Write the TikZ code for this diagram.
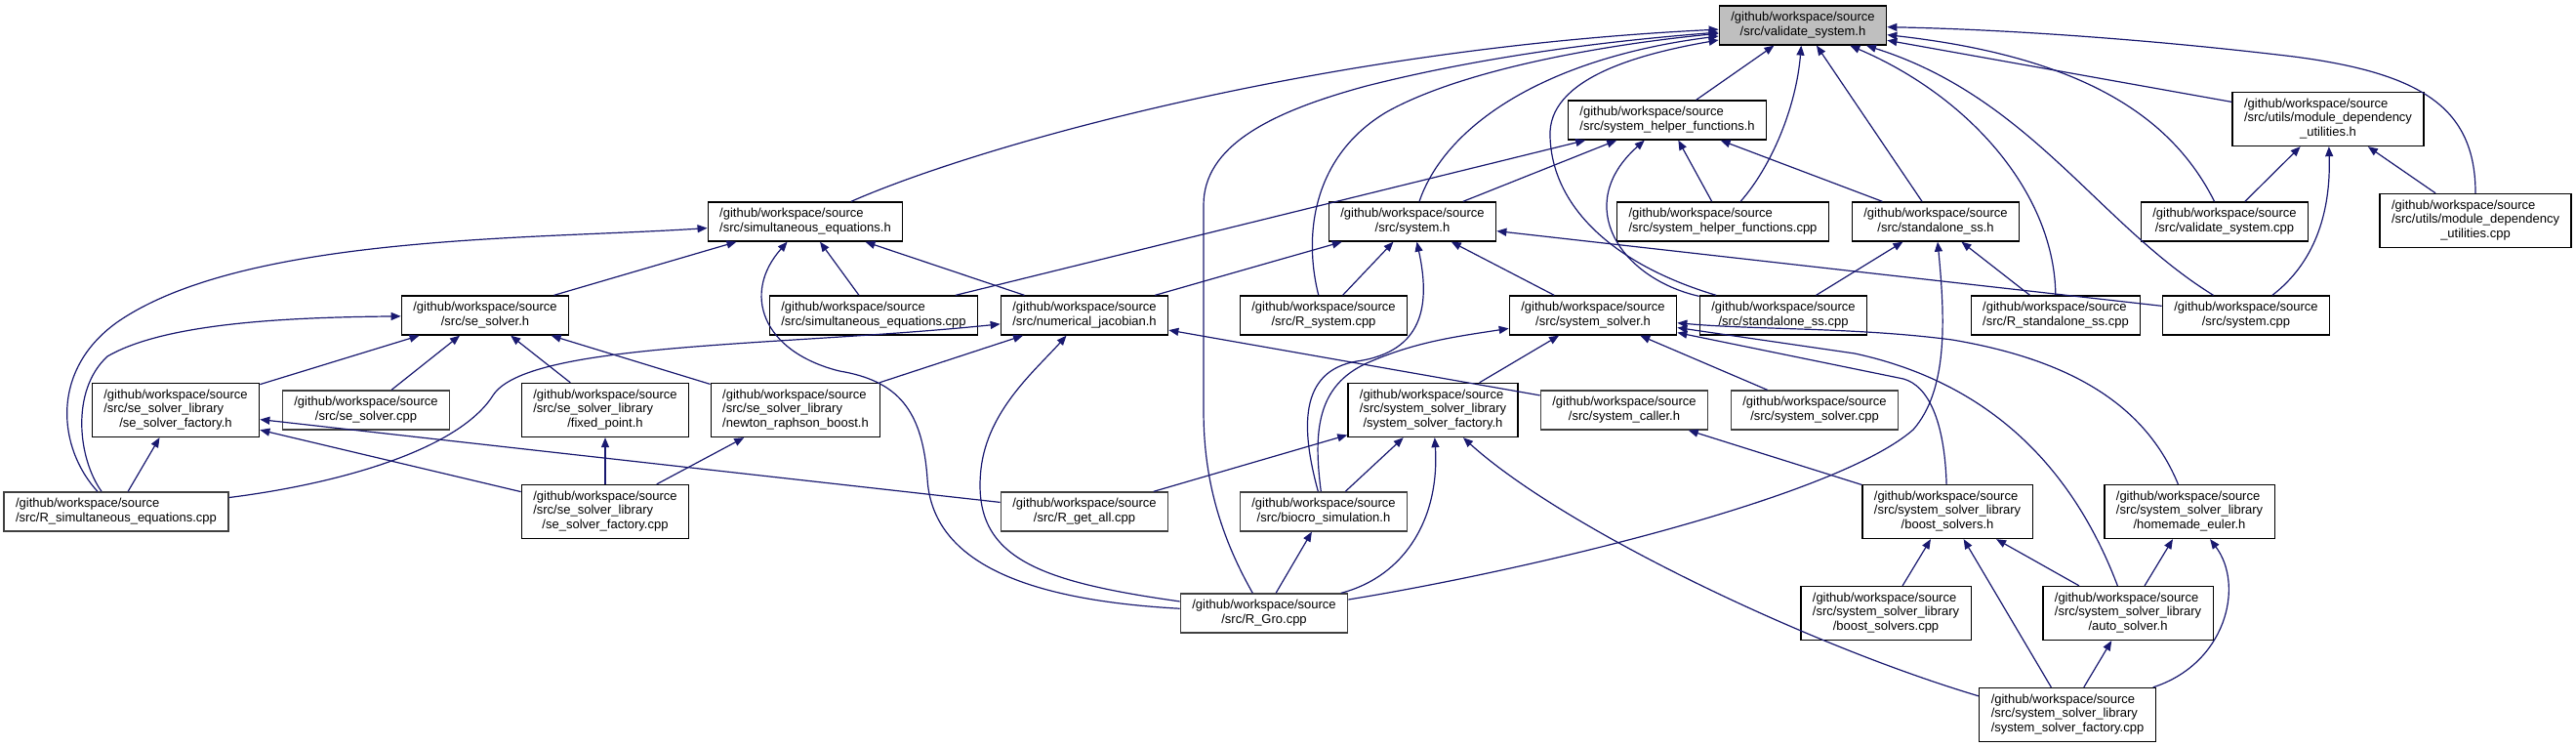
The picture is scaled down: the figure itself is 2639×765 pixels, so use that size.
\documentclass[tikz,border=0pt]{standalone}
\usepackage{fontspec}
\setmainfont{Liberation Sans}
\usepackage{xcolor}
\definecolor{dxedge}{RGB}{25,25,112}
\definecolor{dxfocus}{RGB}{191,191,191}
\definecolor{dxgray}{RGB}{64,64,64}
\usepackage{tikz}
\usetikzlibrary{arrows.meta}

\newcommand{\wsroot}{/github/workspace/source}
\newcommand{\dxtwo}[2]{\begin{tabular}{@{}l@{}}#1\\\multicolumn{1}{@{}c@{}}{#2}\end{tabular}}
\newcommand{\dxthree}[3]{\begin{tabular}{@{}l@{}}#1\\#2\\\multicolumn{1}{@{}c@{}}{#3}\end{tabular}}

\begin{document}
\begin{tikzpicture}[x=1pt, y=-1pt,
  fnode/.style={draw=black, fill=white, line width=1.3pt, inner xsep=12pt, inner ysep=0pt,
    minimum height=40pt, font=\fontsize{13}{14.5}\selectfont},
  tall/.style={minimum height=55pt},
  nodoc/.style={draw=dxgray},
  dep/.style={draw=dxedge, line width=1.2pt, -{Triangle[length=10pt,width=8pt]}}]
  \useasboundingbox (0,0) rectangle (2639,765);
  \fill[white] (0,0) rectangle (2639,765);

  % --- Row 0 ---
  \node[fnode, fill=dxfocus] (n_vsh) at (1847,26) {\dxtwo{\wsroot}{/src/validate\_system.h}};

  % --- Row 1 ---
  \node[fnode] (n_shfh) at (1708,123) {\dxtwo{\wsroot}{/src/system\_helper\_functions.h}};
  \node[fnode, tall] (n_mduh) at (2385,122) {\dxthree{\wsroot}{/src/utils/module\_dependency}{\_utilities.h}};

  % --- Row 2 ---
  \node[fnode] (n_seh) at (825,227) {\dxtwo{\wsroot}{/src/simultaneous\_equations.h}};
  \node[fnode] (n_sysh) at (1447,227) {\dxtwo{\wsroot}{/src/system.h}};
  \node[fnode] (n_shfcpp) at (1765,227) {\dxtwo{\wsroot}{/src/system\_helper\_functions.cpp}};
  \node[fnode] (n_ssh) at (1983,227) {\dxtwo{\wsroot}{/src/standalone\_ss.h}};
  \node[fnode] (n_vscpp) at (2279,227) {\dxtwo{\wsroot}{/src/validate\_system.cpp}};
  \node[fnode, tall] (n_mducpp) at (2536,226) {\dxthree{\wsroot}{/src/utils/module\_dependency}{\_utilities.cpp}};

  % --- Row 3 ---
  \node[fnode] (n_sesh) at (497,323) {\dxtwo{\wsroot}{/src/se\_solver.h}};
  \node[fnode] (n_secpp) at (895,323) {\dxtwo{\wsroot}{/src/simultaneous\_equations.cpp}};
  \node[fnode] (n_njh) at (1111,323) {\dxtwo{\wsroot}{/src/numerical\_jacobian.h}};
  \node[fnode] (n_rsyscpp) at (1356,323) {\dxtwo{\wsroot}{/src/R\_system.cpp}};
  \node[fnode] (n_ssolh) at (1632,323) {\dxtwo{\wsroot}{/src/system\_solver.h}};
  \node[fnode] (n_sscpp) at (1827,323) {\dxtwo{\wsroot}{/src/standalone\_ss.cpp}};
  \node[fnode] (n_rsscpp) at (2106,323) {\dxtwo{\wsroot}{/src/R\_standalone\_ss.cpp}};
  \node[fnode] (n_syscpp) at (2301,323) {\dxtwo{\wsroot}{/src/system.cpp}};

  % --- Row 4 ---
  \node[fnode, tall] (n_sefh) at (180,420) {\dxthree{\wsroot}{/src/se\_solver\_library}{/se\_solver\_factory.h}};
  \node[fnode, nodoc] (n_sescpp) at (375,420) {\dxtwo{\wsroot}{/src/se\_solver.cpp}};
  \node[fnode, tall] (n_fph) at (620,420) {\dxthree{\wsroot}{/src/se\_solver\_library}{/fixed\_point.h}};
  \node[fnode, tall] (n_nrbh) at (815,420) {\dxthree{\wsroot}{/src/se\_solver\_library}{/newton\_raphson\_boost.h}};
  \node[fnode, tall] (n_ssfh) at (1468,420) {\dxthree{\wsroot}{/src/system\_solver\_library}{/system\_solver\_factory.h}};
  \node[fnode, nodoc] (n_sch) at (1664,420) {\dxtwo{\wsroot}{/src/system\_caller.h}};
  \node[fnode, nodoc] (n_ssolcpp) at (1859,420) {\dxtwo{\wsroot}{/src/system\_solver.cpp}};

  % --- Row 5 ---
  \node[fnode, nodoc] (n_rsecpp) at (119,524) {\dxtwo{\wsroot}{/src/R\_simultaneous\_equations.cpp}};
  \node[fnode, tall] (n_sefcpp) at (620,524) {\dxthree{\wsroot}{/src/se\_solver\_library}{/se\_solver\_factory.cpp}};
  \node[fnode, nodoc] (n_rgacpp) at (1111,524) {\dxtwo{\wsroot}{/src/R\_get\_all.cpp}};
  \node[fnode, nodoc] (n_bsh) at (1356,524) {\dxtwo{\wsroot}{/src/biocro\_simulation.h}};
  \node[fnode, tall] (n_bsolh) at (1995,524) {\dxthree{\wsroot}{/src/system\_solver\_library}{/boost\_solvers.h}};
  \node[fnode, tall] (n_heh) at (2243,524) {\dxthree{\wsroot}{/src/system\_solver\_library}{/homemade\_euler.h}};

  % --- Row 6 ---
  \node[fnode, nodoc] (n_rgrocpp) at (1295,628) {\dxtwo{\wsroot}{/src/R\_Gro.cpp}};
  \node[fnode, tall] (n_bsolcpp) at (1932,628) {\dxthree{\wsroot}{/src/system\_solver\_library}{/boost\_solvers.cpp}};
  \node[fnode, tall] (n_ash) at (2180,628) {\dxthree{\wsroot}{/src/system\_solver\_library}{/auto\_solver.h}};

  % --- Row 7 ---
  \node[fnode, tall] (n_ssfcpp) at (2118,732) {\dxthree{\wsroot}{/src/system\_solver\_library}{/system\_solver\_factory.cpp}};

  % edges into validate_system.h
  \draw[dep] (n_seh) .. controls (1000,150) and (1350,50) .. (n_vsh);
  \draw[dep] (n_rgrocpp) .. controls (1245,540) and (1233,480) .. (1233,420) -- (1233,210)
    .. controls (1233,150) and (1300,115) .. (1400,88) .. controls (1550,50) and (1700,38) .. (n_vsh);
  \draw[dep] (n_rsyscpp) .. controls (1335,240) and (1345,160) .. (1420,115)
    .. controls (1500,70) and (1650,45) .. (n_vsh);
  \draw[dep] (n_sysh) .. controls (1480,130) and (1580,60) .. (n_vsh);
  \draw[dep] (n_sscpp) .. controls (1650,270) and (1590,210) .. (1588,140)
    .. controls (1585,80) and (1680,55) .. (n_vsh);
  \draw[dep] (n_shfh) -- (n_vsh);
  \draw[dep] (n_shfcpp) .. controls (1815,170) and (1840,110) .. (n_vsh);
  \draw[dep] (n_ssh) -- (n_vsh);
  \draw[dep] (n_rsscpp) .. controls (2105,200) and (2020,100) .. (n_vsh);
  \draw[dep] (n_syscpp) .. controls (2150,230) and (2080,100) .. (n_vsh);
  \draw[dep] (n_vscpp) .. controls (2230,130) and (2150,60) .. (n_vsh);
  \draw[dep] (n_mduh) -- (n_vsh);
  \draw[dep] (n_mducpp) .. controls (2536,110) and (2480,75) .. (2350,58)
    .. controls (2200,40) and (2050,30) .. (n_vsh);

  % edges into system_helper_functions.h
  \draw[dep] (n_secpp) -- (n_shfh);
  \draw[dep] (n_sysh) -- (n_shfh);
  \draw[dep] (n_sscpp) .. controls (1660,285) and (1610,210) .. (n_shfh);
  \draw[dep] (n_shfcpp) -- (n_shfh);
  \draw[dep] (n_ssh) -- (n_shfh);

  % edges into system.h
  \draw[dep] (n_njh) -- (n_sysh);
  \draw[dep] (n_rsyscpp) -- (n_sysh);
  \draw[dep] (n_bsh) .. controls (1333,440) and (1330,380) .. (1390,370)
    .. controls (1460,360) and (1465,310) .. (n_sysh);
  \draw[dep] (n_ssolh) -- (n_sysh);
  \draw[dep] (n_syscpp) -- (n_sysh);

  % edges into simultaneous_equations.h
  \draw[dep] (n_sesh) -- (n_seh);
  \draw[dep] (n_rsecpp) .. controls (60,460) and (50,380) .. (120,330)
    .. controls (250,240) and (550,245) .. (n_seh);
  \draw[dep] (n_rgrocpp) .. controls (1060,615) and (955,580) .. (950,490)
    .. controls (945,420) and (920,390) .. (860,380) .. controls (780,360) and (760,300) .. (n_seh);
  \draw[dep] (n_secpp) -- (n_seh);
  \draw[dep] (n_njh) -- (n_seh);

  % edges into se_solver.h
  \draw[dep] (n_rsecpp) .. controls (80,470) and (72,400) .. (110,365)
    .. controls (170,330) and (300,325) .. (n_sesh);
  \draw[dep] (n_sefh) -- (n_sesh);
  \draw[dep] (n_sescpp) -- (n_sesh);
  \draw[dep] (n_fph) -- (n_sesh);
  \draw[dep] (n_nrbh) -- (n_sesh);

  % edges into numerical_jacobian.h
  \draw[dep] (n_rsecpp) .. controls (350,495) and (470,460) .. (505,405)
    .. controls (540,350) and (800,355) .. (n_njh);
  \draw[dep] (n_nrbh) -- (n_njh);
  \draw[dep] (n_rgrocpp) .. controls (1060,595) and (995,570) .. (1005,480)
    .. controls (1012,420) and (1060,380) .. (n_njh);
  \draw[dep] (n_sch) -- (n_njh);

  % edges into system_solver.h
  \draw[dep] (n_ssfh) -- (n_ssolh);
  \draw[dep] (n_bsh) .. controls (1345,440) and (1350,395) .. (1400,372)
    .. controls (1450,350) and (1490,345) .. (n_ssolh);
  \draw[dep] (n_ssolcpp) -- (n_ssolh);
  \draw[dep] (n_bsolh) .. controls (1992,430) and (1975,395) .. (1950,388) -- (n_ssolh);
  \draw[dep] (n_ash) .. controls (2120,470) and (2030,390) .. (1900,362) -- (n_ssolh);
  \draw[dep] (n_heh) .. controls (2200,420) and (2130,370) .. (2000,348)
    .. controls (1900,335) and (1800,338) .. (n_ssolh);

  % edges into standalone_ss.h
  \draw[dep] (n_sscpp) -- (n_ssh);
  \draw[dep] (n_rsscpp) -- (n_ssh);
  \draw[dep] (n_rgrocpp) .. controls (1560,585) and (1880,510) .. (1960,440)
    .. controls (1995,400) and (1993,330) .. (n_ssh);

  % edges into module_dependency_utilities.h
  \draw[dep] (n_vscpp) -- (n_mduh);
  \draw[dep] (n_syscpp) .. controls (2370,270) and (2388,220) .. (n_mduh);
  \draw[dep] (n_mducpp) -- (n_mduh);

  % edges into system_solver_factory.h
  \draw[dep] (n_rgacpp) -- (n_ssfh);
  \draw[dep] (n_bsh) -- (n_ssfh);
  \draw[dep] (n_rgrocpp) .. controls (1440,590) and (1475,530) .. (n_ssfh);
  \draw[dep] ([yshift=-9pt]n_ssfcpp.north west) .. controls (1850,660) and (1600,540) .. (n_ssfh);

  % edges into the se_solver_library headers
  \draw[dep] (n_rsecpp) -- (n_sefh);
  \draw[dep] (n_sefcpp) -- (n_sefh);
  \draw[dep] (n_rgacpp) -- (n_sefh);
  \draw[dep] (n_sefcpp) -- (n_fph);
  \draw[dep] (n_sefcpp) -- (n_nrbh);

  % edges into biocro_simulation.h and system_caller.h
  \draw[dep] (n_rgrocpp) -- (n_bsh);
  \draw[dep] (n_bsolh) -- (n_sch);

  % edges into the system_solver_library headers
  \draw[dep] (n_bsolcpp) -- (n_bsolh);
  \draw[dep] (n_ssfcpp) -- (n_bsolh);
  \draw[dep] (n_ash) -- (n_bsolh);
  \draw[dep] (n_ash) -- (n_heh);
  \draw[dep] (n_ssfcpp) .. controls (2280,680) and (2300,600) .. (n_heh);
  \draw[dep] (n_ssfcpp) -- (n_ash);
\end{tikzpicture}
\end{document}
